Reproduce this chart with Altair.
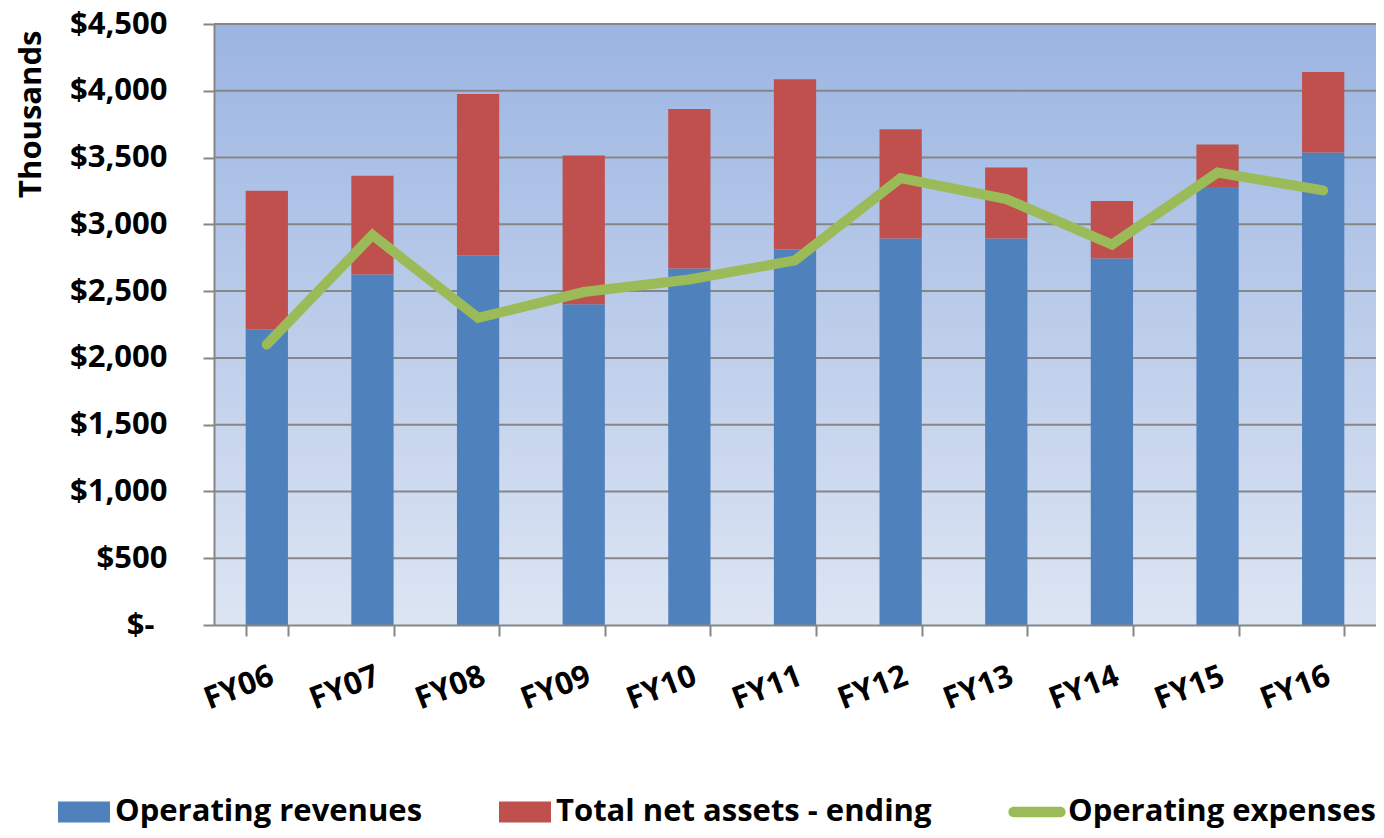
import altair as alt
import pandas as pd

years = ["FY06", "FY07", "FY08", "FY09", "FY10", "FY11", "FY12", "FY13", "FY14", "FY15", "FY16"]
operating_revenues = [2214, 2624, 2766, 2401, 2669, 2811, 2893, 2893, 2744, 3279, 3537]
net_assets_ending = [1037, 739, 1209, 1114, 1194, 1276, 819, 532, 430, 318, 603]
operating_expenses = [2100, 2920, 2300, 2493, 2587, 2730, 3346, 3189, 2848, 3388, 3254]
tick_values = [0, 500, 1000, 1500, 2000, 2500, 3000, 3500, 4000, 4500]
series_names = ["Operating revenues", "Total net assets - ending", "Operating expenses"]
series_colors = ["#4F81BD", "#C0504D", "#9BBB59"]

W = 1162
H = 601
FONT = "Open Sans"
AX = "#868686"

bars_df = pd.concat([
    pd.DataFrame({"year": years, "series": series_names[0], "value": operating_revenues, "ord": 0}),
    pd.DataFrame({"year": years, "series": series_names[1], "value": net_assets_ending, "ord": 1}),
])
line_df = pd.DataFrame({"year": years, "series": series_names[2], "value": operating_expenses})
grid_df = pd.DataFrame({"v": tick_values[1:]})

xscale = alt.Scale(domain=years, paddingInner=0.6, paddingOuter=0.3)
yscale = alt.Scale(domain=[0, 4500], nice=False, zero=True)
cscale = alt.Scale(domain=series_names, range=series_colors)

yaxis = alt.Axis(
    values=tick_values,
    labelExpr="datum.value == 0 ? '$-' : '$' + format(datum.value, ',')",
    grid=False, tickSize=11, tickWidth=2, tickColor=AX,
    domainColor=AX, domainWidth=2,
    labelPadding={"condition": {"test": "datum.value == 0", "value": 49}, "value": 36},
    labelFont=FONT, labelFontSize=31, labelFontWeight="bold", labelColor="black",
    title="Thousands", titleFont=FONT, titleFontSize=31, titleFontWeight="bold",
    titleColor="black", titleAnchor="end", titleY=6, titlePadding=22, zindex=1,
)
xaxis = alt.Axis(
    title=None, tickBand="extent", labelAngle=339, labelAlign="right",
    labelBaseline="top", labelPadding=25, tickSize=11, tickWidth=2, tickColor=AX,
    domainColor=AX, domainWidth=2, labelFont=FONT, labelFontSize=31,
    labelFontWeight="bold", labelColor="black", grid=False, zindex=1,
)

RECT = "M-1,-0.4L1,-0.4L1,0.4L-1,0.4Z"
PILL = "M-0.9,-0.2L0.9,-0.2A0.2,0.2 0 0 1 0.9,0.2L-0.9,0.2A0.2,0.2 0 0 1 -0.9,-0.2Z"

legend = alt.Legend(
    title=None, orient="none", legendX=-156, legendY=762, direction="horizontal",
    columns=3,
    symbolType=alt.ExprRef("datum.value === 'Operating expenses' ? '" + PILL + "' : '" + RECT + "'"),
    symbolSize=2704, symbolStrokeWidth=0, symbolOpacity=1,
    labelFont=FONT, labelFontSize=31, labelFontWeight="bold", labelColor="black",
    columnPadding=76, labelOffset=5, labelLimit=1000, padding=0,
)

bg = alt.Chart(alt.Data(values=[{"a": 1}])).mark_rect(
    fill=alt.Gradient(
        gradient="linear",
        stops=[alt.GradientStop(color="#9BB5E2", offset=0),
               alt.GradientStop(color="#DDE5F3", offset=1)],
        x1=0, x2=0, y1=0, y2=1,
    )
).encode(x=alt.value(0), x2=alt.value(W), y=alt.value(0), y2=alt.value(H))

grid = alt.Chart(grid_df).mark_rule(color=AX, strokeWidth=2).encode(
    y=alt.Y("v:Q", scale=yscale, axis=yaxis),
    x=alt.value(0), x2=alt.value(W),
)

bars = alt.Chart(bars_df).mark_bar().encode(
    x=alt.X("year:N", scale=xscale, axis=xaxis, sort=years),
    y=alt.Y("value:Q", scale=yscale, axis=yaxis, stack="zero"),
    color=alt.Color("series:N", scale=cscale, legend=legend),
    order=alt.Order("ord:Q"),
)

line = alt.Chart(line_df).mark_line(strokeWidth=10, strokeCap="round", strokeJoin="miter").encode(
    x=alt.X("year:N", scale=xscale, axis=xaxis, sort=years),
    y=alt.Y("value:Q", scale=yscale, axis=yaxis),
    color=alt.Color("series:N", scale=cscale, legend=legend),
)

chart = alt.layer(bg, grid, bars, line).properties(
    width=W, height=H,
    padding={"left": 206, "top": 16, "right": 0, "bottom": 205},
    autosize=alt.AutoSizeParams(type="none"),
).configure_view(stroke=None)

chart.save("out.html", embed_options={"renderer": "svg", "actions": False})
